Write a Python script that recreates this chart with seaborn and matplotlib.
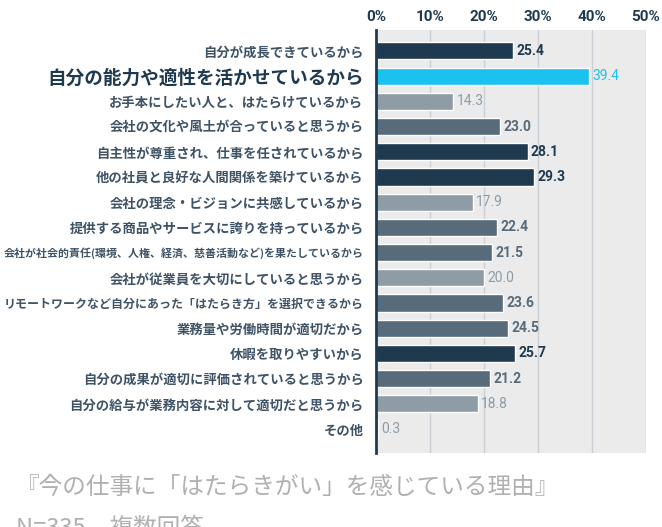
import matplotlib
matplotlib.use("Agg")
import matplotlib.pyplot as plt
import seaborn as sns
import pandas as pd

# データ
categories = [
    "自分が成長できているから",
    "自分の能力や適性を活かせているから",
    "お手本にしたい人と、はたらけているから",
    "会社の文化や風土が合っていると思うから",
    "自主性が尊重され、仕事を任されているから",
    "他の社員と良好な人間関係を築けているから",
    "会社の理念・ビジョンに共感しているから",
    "提供する商品やサービスに誇りを持っているから",
    "会社が社会的責任(環境、人権、経済、慈善活動など)を果たしているから",
    "会社が従業員を大切にしていると思うから",
    "リモートワークなど自分にあった「はたらき方」を選択できるから",
    "業務量や労働時間が適切だから",
    "休暇を取りやすいから",
    "自分の成果が適切に評価されていると思うから",
    "自分の給与が業務内容に対して適切だと思うから",
    "その他",
]
values = [25.4, 39.4, 14.3, 23.0, 28.1, 29.3, 17.9, 22.4, 21.5, 20.0,
          23.6, 24.5, 25.7, 21.2, 18.8, 0.3]
tones = ["dark", "highlight", "light", "mid", "dark", "dark", "light", "mid",
         "mid", "light", "mid", "mid", "dark", "mid", "light", "light"]
x_ticks = [0, 10, 20, 30, 40, 50]
title = "『今の仕事に「はたらきがい」を感じている理由』"
note = "N=335　複数回答"

# 配色
TONE_COLORS = {
    "dark": "#1f3a4f",
    "highlight": "#1bc2f0",
    "mid": "#576b7a",
    "light": "#8e9ca6",
}
LABEL_COLOR = "#3f5366"
NAVY = "#1f3a4f"

sns.set_style("white")
plt.rcParams["font.family"] = ["Noto Sans CJK JP", "DejaVu Sans"]

W, H = 662, 527
fig = plt.figure(figsize=(W / 100, H / 100), dpi=100)
ax = fig.add_axes([376 / W, 1 - 453 / H, 270 / W, 423 / H])

df = pd.DataFrame({"category": categories, "value": values, "tone": tones})
palette = {c: TONE_COLORS[t] for c, t in zip(categories, tones)}
sns.barplot(data=df, x="value", y="category", hue="category", palette=palette,
            legend=False, width=0.68, saturation=1, ax=ax)

ax.set_facecolor("#ebebeb")
ax.set_xlim(0, 50)
ax.set_ylim(len(categories) - 0.05, -0.83)
ax.set_xlabel("")
ax.set_ylabel("")

# 目盛り（上側）
ax.xaxis.tick_top()
ax.set_xticks(x_ticks)
ax.set_xticklabels([f"{t}%" for t in x_ticks], fontsize=11, fontweight="bold",
                   color=NAVY, family=["Roboto", "DejaVu Sans"])
ax.tick_params(axis="x", length=0, pad=4)
ax.tick_params(axis="y", length=0, pad=9)
for t in x_ticks[1:]:
    ax.axvline(t, color="#c9cfd4", lw=1, zorder=0.5)
ax.set_axisbelow(True)

for s in ["top", "right", "bottom"]:
    ax.spines[s].set_visible(False)
ax.spines["left"].set_color(NAVY)
ax.spines["left"].set_linewidth(2)

# カテゴリラベル
for lab, tone in zip(ax.get_yticklabels(), tones):
    if tone == "highlight":
        lab.set_fontsize(13.4)
        lab.set_color(NAVY)
    else:
        lab.set_fontsize(9.6)
        lab.set_color(LABEL_COLOR)
    lab.set_fontweight("bold")

# 数値ラベル
for i, (v, tone) in enumerate(zip(values, tones)):
    weight = "bold" if tone in ("dark", "mid") else "normal"
    ax.text(v + 0.6, i, f"{v:.1f}", va="center", ha="left", fontsize=10,
            color=TONE_COLORS[tone], fontweight=weight,
            family=["Roboto", "DejaVu Sans"])

# はみ出すラベルを縮小
fig.canvas.draw()
renderer = fig.canvas.get_renderer()
avail = 376 - 10 - 6
for lab in ax.get_yticklabels():
    w = lab.get_window_extent(renderer).width
    if w > avail:
        lab.set_fontsize(lab.get_fontsize() * avail / w)

fig.text(16 / W, 1 - 487 / H, title, fontsize=17, color="#b0b0b0",
         va="center", ha="left")
fig.text(16 / W, -8 / H, note, fontsize=17, color="#b0b0b0",
         va="baseline", ha="left")

fig.savefig("out.png", dpi=100, facecolor="white")
